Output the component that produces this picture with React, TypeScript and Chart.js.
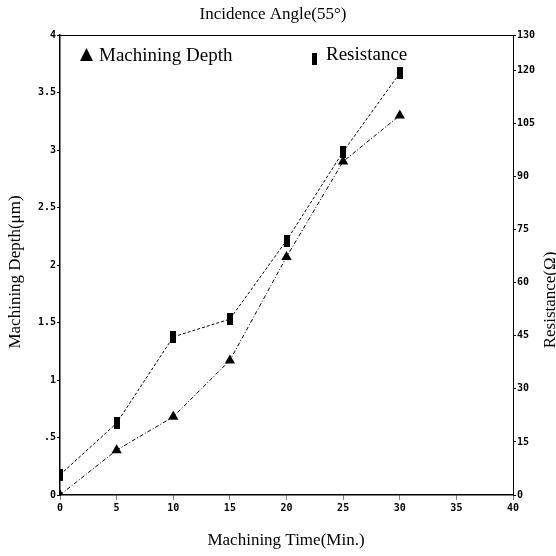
import { useEffect, useRef } from "react";
import { Chart, registerables } from "chart.js";

Chart.register(...registerables);

const times = [0, 5, 10, 15, 20, 25, 30];
const depth = [0, 0.39, 0.68, 1.17, 2.07, 2.9, 3.3];
const resistance = [5.7, 20.3, 44.7, 49.7, 71.9, 97, 119.2];

const xTicks = [0, 5, 10, 15, 20, 25, 30, 35, 40];
const depthTicks = [0, 0.5, 1, 1.5, 2, 2.5, 3, 3.5, 4];
const depthTickLabels = ["0", ".5", "1", "1.5", "2", "2.5", "3", "3.5", "4"];
const resistanceTicks = [0, 15, 30, 45, 60, 75, 90, 105, 120, 130];

const titleText = "Incidence Angle(55°)";
const xTitle = "Machining Time(Min.)";
const yTitle = "Machining Depth(μm)";
const y1Title = "Resistance(Ω)";
const depthLabel = "Machining Depth";
const resistanceLabel = "Resistance";

const SERIF = '"Liberation Serif", "Times New Roman", serif';
const MONO = '"DejaVu Sans Mono", monospace';

export default function App() {
  const ref = useRef<HTMLCanvasElement | null>(null);

  useEffect(() => {
    document.body.style.margin = "0";
    const canvas = ref.current;
    if (!canvas) return;

    const bar = document.createElement("canvas");
    bar.width = 6;
    bar.height = 12;
    const bctx = bar.getContext("2d");
    if (bctx) {
      bctx.fillStyle = "#000";
      bctx.fillRect(0, 0, 6, 12);
    }

    const textPlugin = {
      id: "texts",
      afterDraw(chart: any) {
        const ctx = chart.ctx as CanvasRenderingContext2D;
        const { left, right, top } = chart.chartArea;
        ctx.save();
        ctx.strokeStyle = "#000";
        ctx.lineWidth = 1;
        ctx.beginPath();
        ctx.moveTo(left, top + 0.5);
        ctx.lineTo(right, top + 0.5);
        ctx.stroke();

        ctx.fillStyle = "#000";
        ctx.textBaseline = "middle";
        ctx.textAlign = "center";
        ctx.font = `17px ${SERIF}`;
        ctx.fillText(titleText, 273, 15);
        ctx.fillText(xTitle, 286, 541);

        ctx.save();
        ctx.translate(16, 272);
        ctx.rotate(-Math.PI / 2);
        ctx.fillText(yTitle, 0, 0);
        ctx.restore();

        ctx.save();
        ctx.translate(551, 300);
        ctx.rotate(-Math.PI / 2);
        ctx.fillText(y1Title, 0, 0);
        ctx.restore();

        // legend
        ctx.beginPath();
        ctx.moveTo(86.5, 48);
        ctx.lineTo(93, 61);
        ctx.lineTo(80, 61);
        ctx.closePath();
        ctx.fill();
        ctx.fillRect(312, 53, 5, 12);
        ctx.textAlign = "left";
        ctx.textBaseline = "alphabetic";
        ctx.font = `19px ${SERIF}`;
        ctx.fillText(depthLabel, 99, 61);
        ctx.fillText(resistanceLabel, 326, 60);
        ctx.restore();
      },
    };

    const chart = new Chart(canvas, {
      type: "line",
      data: {
        datasets: [
          {
            label: depthLabel,
            data: times.map((t, i) => ({ x: t, y: depth[i] })),
            yAxisID: "y",
            borderColor: "#000",
            backgroundColor: "#000",
            borderWidth: 1,
            borderDash: [4, 2, 1, 2],
            pointStyle: "triangle",
            pointRadius: 6,
            pointBorderWidth: 0,
            tension: 0,
          },
          {
            label: resistanceLabel,
            data: times.map((t, i) => ({ x: t, y: resistance[i] })),
            yAxisID: "y1",
            borderColor: "#000",
            backgroundColor: "#000",
            borderWidth: 1,
            borderDash: [3, 2],
            pointStyle: bar as any,
            pointRadius: 6,
            tension: 0,
          },
        ],
      },
      options: {
        animation: false,
        responsive: false,
        layout: { padding: { top: 35, left: 0, right: 0, bottom: 0 } },
        plugins: {
          legend: { display: false },
          title: { display: false },
          tooltip: { enabled: false },
        },
        scales: {
          x: {
            type: "linear",
            min: 0,
            max: 40,
            afterBuildTicks: (axis: any) => {
              axis.ticks = xTicks.map((v) => ({ value: v }));
            },
            afterFit: (axis: any) => {
              axis.height = 61;
            },
            grid: {
              drawOnChartArea: false,
              drawTicks: true,
              tickLength: 5,
              tickColor: "#000",
              tickBorderDash: [1, 1],
            },
            border: { display: true, color: "#000", width: 1.5 },
            ticks: {
              color: "#000",
              font: { family: MONO, size: 10, weight: "bold" },
              padding: 2,
              maxRotation: 0,
              autoSkip: false,
            },
          },
          y: {
            type: "linear",
            position: "left",
            min: 0,
            max: 4,
            afterBuildTicks: (axis: any) => {
              axis.ticks = depthTicks.map((v) => ({ value: v }));
            },
            afterFit: (axis: any) => {
              axis.width = 60;
            },
            grid: {
              drawOnChartArea: false,
              drawTicks: true,
              tickLength: 3,
              tickColor: "#000",
            },
            border: { display: true, color: "#000", width: 1.5 },
            ticks: {
              color: "#000",
              font: { family: MONO, size: 10, weight: "bold" },
              padding: 1,
              autoSkip: false,
              callback: (value: any) => {
                const i = depthTicks.indexOf(Number(value));
                return i >= 0 ? depthTickLabels[i] : "";
              },
            },
          },
          y1: {
            type: "linear",
            position: "right",
            min: 0,
            max: 130,
            afterBuildTicks: (axis: any) => {
              axis.ticks = resistanceTicks.map((v) => ({ value: v }));
            },
            afterFit: (axis: any) => {
              axis.width = 43;
            },
            grid: {
              drawOnChartArea: false,
              drawTicks: true,
              tickLength: 3,
              tickColor: "#000",
            },
            border: { display: true, color: "#000", width: 1 },
            ticks: {
              color: "#000",
              font: { family: MONO, size: 10, weight: "bold" },
              padding: 1,
              autoSkip: false,
            },
          },
        },
      },
      plugins: [textPlugin],
    });

    return () => {
      chart.destroy();
    };
  }, []);

  return (
    <div style={{ width: 556, height: 556, background: "#fff" }}>
      <canvas ref={ref} width={556} height={556} style={{ display: "block" }} />
    </div>
  );
}
